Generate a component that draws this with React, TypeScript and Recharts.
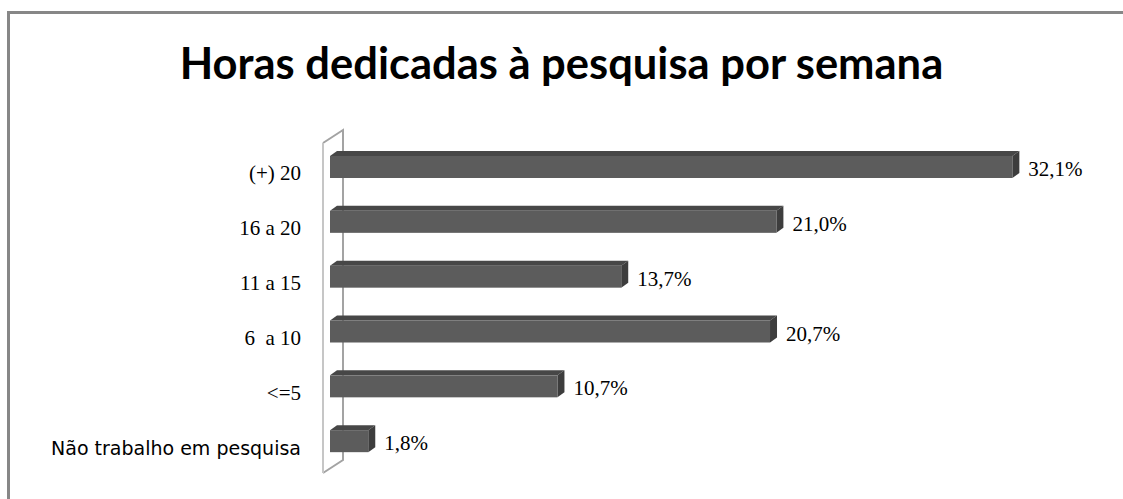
import { BarChart, Bar, XAxis, YAxis, LabelList, ReferenceLine } from 'recharts'

const categories = ['(+) 20', '16 a 20', '11 a 15', '6  a 10', '<=5', 'Não trabalho em pesquisa']
const percentages = [32.1, 21.0, 13.7, 20.7, 10.7, 1.8]

const chartData = categories.map((label, i) => ({ label, value: percentages[i] }))

const fmt = (v: number) => `${v.toFixed(1).replace('.', ',')}%`

const W = 1123
const H = 499
const MARGIN = { top: 137, right: 49, bottom: 33, left: 0 }

// 3D-ish horizontal bar: front face, top face and right side
const Bar3D = (props: any) => {
  const { x, y, width, height } = props
  if (width == null || height == null) return null
  const dx = 7
  const dy = 5
  return (
    <g>
      <polygon
        points={`${x},${y + dy} ${x + dx},${y} ${x + width + dx},${y} ${x + width},${y + dy}`}
        fill="#474747"
      />
      <polygon
        points={`${x + width},${y + dy} ${x + width + dx},${y} ${x + width + dx},${y + height - dy} ${x + width},${y + height}`}
        fill="#3d3d3d"
      />
      <rect x={x} y={y + dy} width={width} height={height - dy} fill="#5c5c5c" />
    </g>
  )
}

// thin 3D wall along the category axis (drawn in a chart layer behind the bars)
const Wall = (props: any) => {
  const x = props.x1
  const top = Math.min(props.y1, props.y2)
  const bottom = Math.max(props.y1, props.y2)
  return (
    <g>
      <polyline
        points={`${x - 7},${top + 6} ${x + 13},${top - 7} ${x + 13},${bottom - 6} ${x - 7},${bottom + 7}`}
        fill="none"
        stroke="#a3a3a3"
        strokeWidth={2}
      />
      <line x1={x - 7} y1={top + 6} x2={x - 7} y2={bottom + 7} stroke="#c6c6c6" strokeWidth={2} />
    </g>
  )
}

const CategoryTick = ({ x, y, payload }: any) => {
  const text: string = payload.value
  const wordy = /[A-Za-zã]{3,}/.test(text)
  return (
    <text
      x={x}
      y={y}
      dy={16}
      textAnchor="end"
      xmlSpace="preserve"
      fontFamily={wordy ? 'DejaVu Sans' : 'Liberation Serif'}
      fontSize={wordy ? 19 : 21}
      fill="#000"
    >
      {text}
    </text>
  )
}

const ValueLabel = ({ x, y, width, height, value }: any) => {
  const frontMid = y + 5 + (height - 5) / 2
  return (
    <text
      x={x + width + 16}
      y={frontMid}
      dy={9}
      fontFamily="Liberation Serif"
      fontSize={21}
      fill="#000"
    >
      {fmt(value)}
    </text>
  )
}

export default function App() {
  return (
    <div
      style={{
        position: 'absolute',
        left: 0,
        top: 0,
        width: W,
        height: H,
        overflow: 'hidden',
        background: '#fff',
      }}
    >
      <div
        style={{
          position: 'absolute',
          left: 7,
          top: 11,
          width: 1300,
          height: 700,
          border: '3px solid #878787',
        }}
      />
      <div
        style={{
          position: 'absolute',
          left: 0,
          top: 41,
          width: W,
          textAlign: 'center',
          fontFamily: 'Lato',
          fontWeight: 700,
          fontSize: 43.5,
          lineHeight: '42px',
          color: '#000',
        }}
      >
        Horas dedicadas à pesquisa por semana
      </div>

      {/* back layer: the wall */}
      <div style={{ position: 'absolute', left: 0, top: 0 }}>
        <BarChart width={W} height={H} data={chartData} layout="vertical" margin={MARGIN} barSize={27}>
          <XAxis type="number" domain={[0, 35]} hide />
          <YAxis type="category" dataKey="label" width={330} axisLine={false} tickLine={false} tick={false} />
          <ReferenceLine x={0} shape={<Wall />} />
          <Bar dataKey="value" fill="none" isAnimationActive={false} />
        </BarChart>
      </div>

      {/* front layer: bars, labels */}
      <div style={{ position: 'absolute', left: 0, top: 0 }}>
        <BarChart width={W} height={H} data={chartData} layout="vertical" margin={MARGIN} barSize={27}>
          <XAxis type="number" domain={[0, 35]} hide />
          <YAxis
            type="category"
            dataKey="label"
            width={330}
            axisLine={false}
            tickLine={false}
            tickSize={0}
            tickMargin={29}
            tick={<CategoryTick />}
            interval={0}
          />
          <Bar dataKey="value" shape={<Bar3D />} isAnimationActive={false}>
            <LabelList dataKey="value" content={<ValueLabel />} />
          </Bar>
        </BarChart>
      </div>
    </div>
  )
}
